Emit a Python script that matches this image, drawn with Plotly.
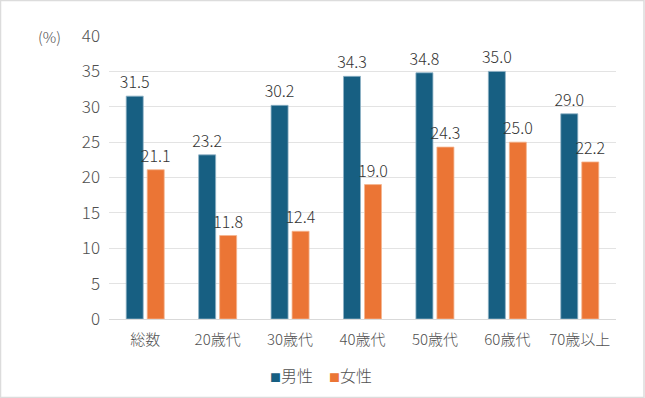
import plotly.graph_objects as go

categories = ["総数", "20歳代", "30歳代", "40歳代", "50歳代", "60歳代", "70歳以上"]
male = [31.5, 23.2, 30.2, 34.3, 34.8, 35.0, 29.0]
female = [21.1, 11.8, 12.4, 19.0, 24.3, 25.0, 22.2]
y_ticks = [0, 5, 10, 15, 20, 25, 30, 35, 40]

FONT = "Noto Sans CJK JP"
GRAY = "#505050"
LABEL = "#333333"
BLUE = "#175F82"
ORANGE = "#EB7535"

fig = go.Figure()
fig.add_trace(go.Bar(
    x=categories, y=male, name="男性",
    marker=dict(color=BLUE, line=dict(color="#8fb3c6", width=0.8)),
    text=[f"{v:.1f}" for v in male], textposition="outside", constraintext="none",
    textfont=dict(size=16, color=LABEL, family=FONT, weight=300),
    cliponaxis=False,
))
fig.add_trace(go.Bar(
    x=categories, y=female, name="女性",
    marker=dict(color=ORANGE, line=dict(color="#f5b58f", width=0.8)),
    text=[f"{v:.1f}" for v in female], textposition="outside", constraintext="none",
    textfont=dict(size=16, color=LABEL, family=FONT, weight=300),
    cliponaxis=False,
))

fig.update_layout(
    width=645, height=398,
    margin=dict(l=109, r=29, t=36, b=79),
    paper_bgcolor="white", plot_bgcolor="white",
    font=dict(family=FONT, color=GRAY, size=15, weight=300),
    barmode="group", bargap=0.42, bargroupgap=0.19,
    showlegend=False,
)
fig.update_xaxes(showline=False, ticks="", ticklabelstandoff=10,
                 tickfont=dict(size=15, color=GRAY, weight=300))
fig.update_yaxes(range=[0, 40], tickvals=y_ticks, showgrid=True, gridcolor="#e3e3e3",
                 gridwidth=1, zeroline=True, zerolinecolor="#d9d9d9", zerolinewidth=1,
                 ticks="", ticklabelstandoff=8, tickfont=dict(size=17, color=GRAY, weight=300))
fig.add_annotation(text="(%)", xref="paper", yref="paper", x=-0.09, y=1.0,
                   xanchor="right", yanchor="middle", showarrow=False,
                   font=dict(size=15, color=GRAY, family=FONT, weight=300))
# legend drawn as text with coloured squares
legend_text = (f'<span style="color:{BLUE};font-size:11px">■</span>{fig.data[0].name}'
               f'　<span style="color:{ORANGE};font-size:11px">■</span>{fig.data[1].name}')
fig.add_annotation(text=legend_text, xref="paper", yref="paper", x=0.418, y=-0.198,
                   xanchor="center", yanchor="middle", showarrow=False,
                   font=dict(size=16, color=GRAY, family=FONT, weight=300))
fig.add_shape(type="rect", xref="paper", yref="paper",
              x0=-108.5/507, x1=1 + 28/507, y0=-78.5/283, y1=1 + 35.5/283,
              line=dict(color="#dcdcdc", width=1.5), fillcolor="rgba(0,0,0,0)", layer="below")

fig.write_html("out.html", config={"displayModeBar": False},
               post_script="document.body.style.margin='0';")
